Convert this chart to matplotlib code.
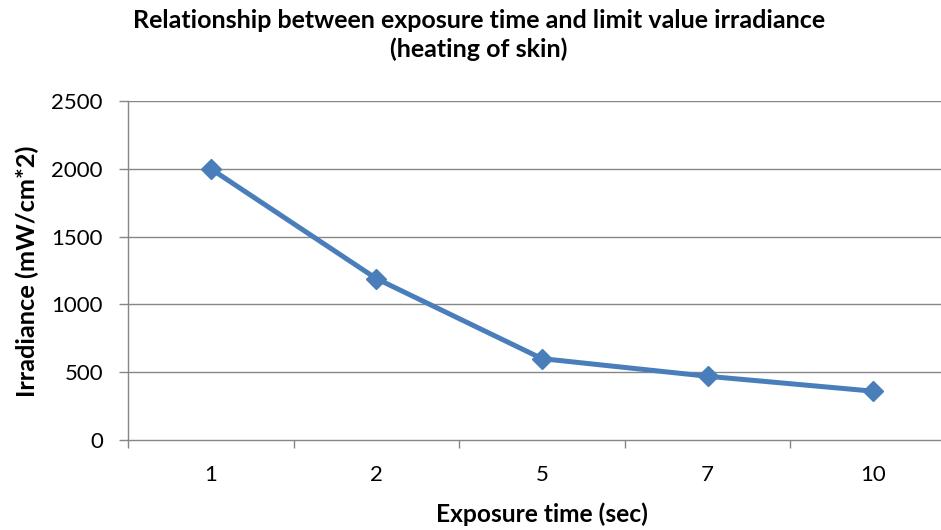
import matplotlib
matplotlib.use("Agg")
import matplotlib.pyplot as plt
import numpy as np

categories = ["1", "2", "5", "7", "10"]
irradiance = [2000, 1190, 600, 470, 360]
yticks = [0, 500, 1000, 1500, 2000, 2500]
title_lines = ["Relationship between exposure time and limit value irradiance", "(heating of skin)"]
xlabel = "Exposure time (sec)"
ylabel = "Irradiance (mW/cm*2)"

plt.rcParams['font.family'] = ['Lato', 'DejaVu Sans']

W, H = 941, 530
fig = plt.figure(figsize=(W/100, H/100), dpi=100)
ax_left, ax_bottom_px, ax_top_px, ax_right = 128, 440, 101, 956
ax = fig.add_axes([ax_left/W, 1 - ax_bottom_px/H, (ax_right-ax_left)/W, (ax_bottom_px-ax_top_px)/H])
axh = ax_bottom_px - ax_top_px
axw = ax_right - ax_left

x = np.arange(len(categories))
ax.plot(x, irradiance, color='#4A7EBB', linewidth=3.6, marker='D',
        markersize=10, markeredgecolor='#4A7EBB', markerfacecolor='#4A7EBB', zorder=3)

ax.set_xlim(-0.5, len(categories) - 0.5)
ax.set_ylim(0, 2500)
ax.set_yticks(yticks)
ax.set_yticklabels([str(v) for v in yticks], fontsize=16)

grid_col = '#868686'
for v in yticks[1:]:
    ax.axhline(v, color=grid_col, linewidth=1.0, zorder=1)

ax.set_xticks(np.arange(-0.5, len(categories), 1.0))
ax.set_xticklabels([])
ax.set_xticks(x, minor=True)
ax.set_xticklabels(categories, minor=True, fontsize=16)
ax.tick_params(axis='x', which='major', length=6, color=grid_col, width=1)
ax.tick_params(axis='x', which='minor', length=0, pad=18)
ax.tick_params(axis='y', length=6.5, color=grid_col, width=1, pad=11.5)

for s in ['top', 'right']:
    ax.spines[s].set_visible(False)
for s in ['left', 'bottom']:
    ax.spines[s].set_color(grid_col)
    ax.spines[s].set_linewidth(1.0)

xl = ax.set_xlabel(xlabel, fontsize=18, fontweight='bold', va='baseline')
ax.xaxis.set_label_coords(0.5, -(522 - ax_bottom_px)/axh)
yl = ax.set_ylabel(ylabel, fontsize=18, fontweight='bold', va='center')
ax.yaxis.set_label_coords(-(ax_left - 27)/axw, 0.5 + (270.5 - 271)/axh)

t1 = fig.text(479/W, 1 - 28/H, title_lines[0], ha='center', va='baseline', fontsize=17, fontweight='bold')
t2 = fig.text(479/W, 1 - 57/H, title_lines[1], ha='center', va='baseline', fontsize=17, fontweight='bold')

def fit(t, target, dim):
    fig.canvas.draw()
    bb = t.get_window_extent(fig.canvas.get_renderer())
    cur = bb.width if dim == 'w' else bb.height
    t.set_fontsize(t.get_fontsize() * target / cur)

fit(t1, 692, 'w')
t2.set_fontsize(t1.get_fontsize())
fit(xl, 211, 'w')
fit(yl, 252, 'h')

fig.savefig("out.png", dpi=100)
